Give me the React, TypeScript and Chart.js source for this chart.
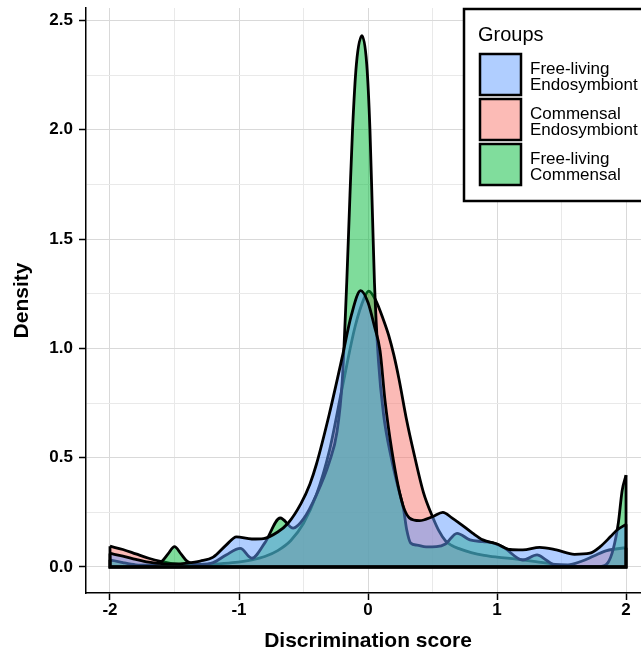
import React, { useEffect, useRef } from 'react';
import { Chart, registerables } from 'chart.js';

Chart.register(...registerables);

const FONT = '"Liberation Sans", Arial, Helvetica, sans-serif';

// Groups, in legend order
const groupLabels = [
  ['Free-living', 'Endosymbiont'],
  ['Commensal', 'Endosymbiont'],
  ['Free-living', 'Commensal'],
];
const groupColors = ['#619CFF', '#F8766D', '#00BA38'];
// chart.js draws higher `order` first: red, then green, then blue on top
const groupOrder = [0, 2, 1];
const legendTitle = 'Groups';
const xTitle = 'Discrimination score';
const yTitle = 'Density';

// Axis ticks (major + minor) and their labels
const xTicks = [-2, -1.5, -1, -0.5, 0, 0.5, 1, 1.5, 2];
const xTickLabels = ['-2', '', '-1', '', '0', '', '1', '', '2'];
const yTicks = [0, 0.25, 0.5, 0.75, 1, 1.25, 1.5, 1.75, 2, 2.25, 2.5];
const yTickLabels = ['0.0', '', '0.5', '', '1.0', '', '1.5', '', '2.0', '', '2.5'];
const xRange = [-2.186, 2.116];
const yRange = [-0.119, 2.557];

// Density estimate: Free-living vs Endosymbiont
const freeEndoX = [-2, -1.9, -1.8, -1.7, -1.6, -1.5, -1.4, -1.3, -1.2, -1.1, -1.02, -0.9, -0.81, -0.7, -0.62, -0.52, -0.45, -0.4, -0.3, -0.2, -0.13, -0.057, 0.0, 0.05, 0.093, 0.132, 0.184, 0.235, 0.274, 0.32, 0.4, 0.5, 0.58, 0.65, 0.71, 0.81, 0.89, 1.0, 1.1, 1.2, 1.33, 1.46, 1.6, 1.72, 1.8, 1.88, 1.93, 2.0];
const freeEndoY = [0.062, 0.05, 0.035, 0.022, 0.015, 0.014, 0.018, 0.027, 0.045, 0.1, 0.138, 0.128, 0.13, 0.16, 0.2, 0.29, 0.38, 0.47, 0.7, 0.96, 1.15, 1.264, 1.21, 1.1, 0.99, 0.76, 0.535, 0.367, 0.276, 0.225, 0.212, 0.23, 0.25, 0.225, 0.2, 0.155, 0.124, 0.105, 0.08, 0.078, 0.09, 0.078, 0.058, 0.063, 0.093, 0.139, 0.169, 0.195];

// Density estimate: Commensal vs Endosymbiont
const commEndoX = [-2, -1.9, -1.8, -1.7, -1.6, -1.5, -1.35, -1.2, -1.05, -0.9, -0.8, -0.7, -0.6, -0.5, -0.4, -0.3, -0.2, -0.1, -0.03, 0.005, 0.06, 0.12, 0.16, 0.2, 0.24, 0.3, 0.35, 0.43, 0.5, 0.55, 0.6, 0.65, 0.7, 0.8, 0.9, 1.0, 1.15, 1.3, 1.45, 1.55, 1.65, 1.75, 1.85, 2.0];
const commEndoY = [0.095, 0.08, 0.06, 0.04, 0.025, 0.014, 0.01, 0.013, 0.02, 0.033, 0.048, 0.075, 0.12, 0.2, 0.33, 0.53, 0.82, 1.1, 1.23, 1.262, 1.22, 1.13, 1.06, 0.97, 0.86, 0.67, 0.535, 0.34, 0.23, 0.165, 0.12, 0.098, 0.085, 0.066, 0.053, 0.045, 0.036, 0.025, 0.012, 0.01, 0.025, 0.05, 0.075, 0.088];

// Density estimate: Free-living vs Commensal
const freeCommX = [-2, -1.9, -1.8, -1.7, -1.6, -1.55, -1.5, -1.45, -1.4, -1.3, -1.2, -1.1, -0.99, -0.9, -0.8, -0.68, -0.58, -0.5, -0.4, -0.3, -0.24, -0.2, -0.165, -0.14, -0.12, -0.09, -0.047, -0.01, 0.015, 0.035, 0.05, 0.08, 0.12, 0.18, 0.235, 0.274, 0.3, 0.33, 0.38, 0.45, 0.53, 0.6, 0.69, 0.79, 0.89, 0.97, 1.05, 1.2, 1.31, 1.38, 1.46, 1.6, 1.8, 1.86, 1.9, 1.94, 1.97, 2.0];
const freeCommY = [0.033, 0.02, 0.01, 0.008, 0.025, 0.06, 0.093, 0.06, 0.025, 0.012, 0.02, 0.055, 0.085, 0.04, 0.11, 0.224, 0.178, 0.22, 0.33, 0.48, 0.62, 0.85, 1.3, 1.7, 2.0, 2.3, 2.43, 2.3, 2.0, 1.6, 1.3, 0.95, 0.7, 0.5, 0.36, 0.27, 0.17, 0.11, 0.1, 0.092, 0.093, 0.105, 0.154, 0.124, 0.116, 0.11, 0.09, 0.032, 0.055, 0.032, 0.005, 0.002, 0.002, 0.02, 0.08, 0.2, 0.35, 0.42];

const seriesX = [freeEndoX, commEndoX, freeCommX];
const seriesY = [freeEndoY, commEndoY, freeCommY];

const LINE_W = 2.8;

function withAlpha(hex: string, a: number) {
  const n = parseInt(hex.slice(1), 16);
  return `rgba(${(n >> 16) & 255}, ${(n >> 8) & 255}, ${n & 255}, ${a})`;
}

function tint(hex: string, a: number) {
  // colour of a translucent fill over white
  const n = parseInt(hex.slice(1), 16);
  const c = [(n >> 16) & 255, (n >> 8) & 255, n & 255].map((v) => Math.round(v * a + 255 * (1 - a)));
  return `rgb(${c[0]}, ${c[1]}, ${c[2]})`;
}

const MAJOR_GRID = '#d9d9d9';
const MINOR_GRID = '#e9e9e9';

// Closes each density polygon: vertical ends and the zero baseline
const outlinePlugin = {
  id: 'densityOutline',
  afterDatasetsDraw(chart: any) {
    const { ctx, chartArea } = chart;
    const xs = chart.scales.x;
    const ys = chart.scales.y;
    const y0 = ys.getPixelForValue(0);
    ctx.save();
    ctx.beginPath();
    ctx.rect(chartArea.left, chartArea.top, chartArea.right - chartArea.left, chartArea.bottom - chartArea.top);
    ctx.clip();
    ctx.strokeStyle = '#000';
    ctx.lineWidth = LINE_W;
    ctx.lineJoin = 'miter';
    seriesX.forEach((sx, i) => {
      const sy = seriesY[i];
      const last = sx.length - 1;
      const xl = xs.getPixelForValue(sx[0]);
      const xr = xs.getPixelForValue(sx[last]);
      ctx.beginPath();
      ctx.moveTo(xl, ys.getPixelForValue(sy[0]));
      ctx.lineTo(xl, y0);
      ctx.lineTo(xr, y0);
      ctx.lineTo(xr, ys.getPixelForValue(sy[last]));
      ctx.stroke();
    });
    ctx.restore();
  },
};

// Axis titles
const titlesPlugin = {
  id: 'axisTitles',
  afterDraw(chart: any) {
    const { ctx, chartArea } = chart;
    const xs = chart.scales.x;
    ctx.save();
    ctx.fillStyle = '#000';
    ctx.font = `bold 21px ${FONT}`;
    ctx.textAlign = 'center';
    ctx.textBaseline = 'middle';
    ctx.fillText(xTitle, xs.getPixelForValue(0), 641);
    ctx.translate(22, (chartArea.top + chartArea.bottom) / 2);
    ctx.rotate(-Math.PI / 2);
    ctx.fillText(yTitle, 0, 0);
    ctx.restore();
  },
};

// Legend box in the top-right corner of the panel
const legendPlugin = {
  id: 'groupsLegend',
  afterDraw(chart: any) {
    const { ctx } = chart;
    const boxLeft = 464;
    const boxTop = 9;
    const boxBottom = 201;
    ctx.save();
    ctx.fillStyle = '#fff';
    ctx.fillRect(boxLeft, boxTop, 400, boxBottom - boxTop);
    ctx.strokeStyle = '#000';
    ctx.lineWidth = 2.5;
    ctx.strokeRect(boxLeft, boxTop, 400, boxBottom - boxTop);

    ctx.fillStyle = '#000';
    ctx.font = `20px ${FONT}`;
    ctx.textAlign = 'left';
    ctx.textBaseline = 'alphabetic';
    ctx.fillText(legendTitle, 478, 41);

    const keyX = 480;
    const keySize = 41;
    const keyStep = 45;
    const keyTop = 54;
    groupLabels.forEach((lines, i) => {
      const top = keyTop + i * keyStep;
      ctx.fillStyle = tint(groupColors[i], 0.5);
      ctx.fillRect(keyX, top, keySize, keySize);
      ctx.strokeStyle = '#000';
      ctx.lineWidth = 2.5;
      ctx.strokeRect(keyX, top, keySize, keySize);
      ctx.fillStyle = '#000';
      ctx.font = `17px ${FONT}`;
      lines.forEach((t, j) => {
        ctx.fillText(t, 530, top + 20 + j * 16);
      });
    });
    ctx.restore();
  },
};

function isMajor(v: number, step: number) {
  return Math.abs(v / step - Math.round(v / step)) < 1e-6;
}

export default function App() {
  const canvasRef = useRef<HTMLCanvasElement | null>(null);

  useEffect(() => {
    const canvas = canvasRef.current;
    if (!canvas) return;

    const datasets = seriesX.map((sx, i) => ({
      label: groupLabels[i].join(' '),
      data: sx.map((x, j) => ({ x, y: seriesY[i][j] })),
      order: groupOrder[i],
      borderColor: '#000',
      borderWidth: LINE_W,
      borderJoinStyle: 'round' as const,
      backgroundColor: withAlpha(groupColors[i], 0.5),
      fill: 'origin',
      pointRadius: 0,
      pointHoverRadius: 0,
      cubicInterpolationMode: 'monotone' as const,
    }));

    const tickFont = { family: FONT, size: 17, weight: 'bold' as const };

    const chart = new Chart(canvas, {
      type: 'line',
      data: { datasets },
      options: {
        animation: false,
        responsive: false,
        devicePixelRatio: 1,
        events: [],
        layout: { padding: { top: 8, left: 0, right: 0, bottom: 0 } },
        plugins: { legend: { display: false }, tooltip: { enabled: false } },
        scales: {
          x: {
            type: 'linear',
            min: xRange[0],
            max: xRange[1],
            afterBuildTicks: (s: any) => {
              s.ticks = xTicks.map((v) => ({ value: v }));
            },
            afterFit: (s: any) => {
              s.height = 60;
              s.paddingLeft = 0;
              s.paddingRight = 0;
            },
            ticks: {
              autoSkip: false,
              maxRotation: 0,
              minRotation: 0,
              padding: 0,
              color: '#000',
              font: tickFont,
              callback: (_v: any, i: number) => xTickLabels[i],
            },
            grid: {
              color: (c: any) => (c.tick && isMajor(c.tick.value, 1) ? MAJOR_GRID : MINOR_GRID),
              lineWidth: 1,
              drawTicks: true,
              tickLength: 7,
              tickWidth: 1.5,
              tickColor: (c: any) => (c.tick && isMajor(c.tick.value, 1) ? '#000' : 'rgba(0,0,0,0)'),
            },
            border: { display: true, color: '#000', width: 1.5 },
          },
          y: {
            type: 'linear',
            min: yRange[0],
            max: yRange[1],
            afterBuildTicks: (s: any) => {
              s.ticks = yTicks.map((v) => ({ value: v }));
            },
            afterFit: (s: any) => {
              s.width = 86;
              s.paddingTop = 0;
              s.paddingBottom = 0;
            },
            ticks: {
              autoSkip: false,
              padding: 6,
              color: '#000',
              font: tickFont,
              callback: (_v: any, i: number) => yTickLabels[i],
            },
            grid: {
              color: (c: any) => (c.tick && isMajor(c.tick.value, 0.5) ? MAJOR_GRID : MINOR_GRID),
              lineWidth: 1,
              drawTicks: true,
              tickLength: 7,
              tickWidth: 1.5,
              tickColor: (c: any) => (c.tick && isMajor(c.tick.value, 0.5) ? '#000' : 'rgba(0,0,0,0)'),
            },
            border: { display: true, color: '#000', width: 1.5 },
          },
        },
      },
      plugins: [outlinePlugin, titlesPlugin, legendPlugin],
    } as any);

    return () => chart.destroy();
  }, []);

  return (
    <div style={{ position: 'fixed', left: 0, top: 0, width: 641, height: 653, background: '#fff' }}>
      <canvas ref={canvasRef} width={641} height={653} style={{ display: 'block' }} />
    </div>
  );
}
